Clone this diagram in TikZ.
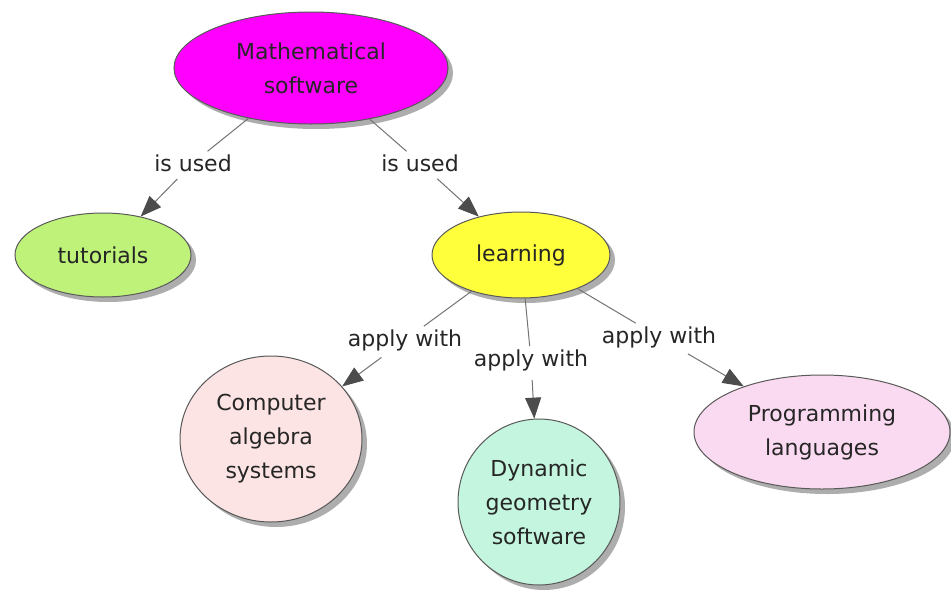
\documentclass[tikz,border=0pt]{standalone}
\usepackage{fontspec}
\setmainfont{DejaVu Sans}
\usetikzlibrary{shapes.geometric,arrows.meta,shadows}
\definecolor{cmag}{RGB}{255,0,255}
\definecolor{cgreen}{RGB}{190,242,120}
\definecolor{cyellow}{RGB}{255,255,60}
\definecolor{cpink}{RGB}{252,228,228}
\definecolor{cteal}{RGB}{196,245,222}
\definecolor{clav}{RGB}{250,218,240}
\begin{document}
\begin{tikzpicture}[x=1pt,y=-1pt,
  concept/.style={ellipse, draw=black!65, line width=1pt, inner sep=0pt, align=center,
    text=black!85, font=\fontsize{22}{34}\selectfont,
    drop shadow={shadow xshift=5pt, shadow yshift=-5pt, fill=black!40, opacity=0.8}},
  lbl/.style={font=\fontsize{22}{26}\selectfont, text=black!85, inner sep=3pt},
  link/.style={draw=black!55, line width=1pt},
  arr/.style={link, shorten <=6pt, -{Triangle[length=21pt,width=16pt,fill=black!70,color=black!70]}}
]
\useasboundingbox[fill=white] (0,0) rectangle (951,592);

\node[concept, fill=cmag, minimum width=274pt, minimum height=112pt] (ms) at (311,68) {Mathematical\\software};
\node[concept, fill=cgreen, minimum width=176pt, minimum height=84pt] (tut) at (103,255) {tutorials};
\node[concept, fill=cyellow, minimum width=178pt, minimum height=86pt] (lrn) at (521,255) {learning};
\node[concept, fill=cpink, minimum width=182pt, minimum height=166pt] (cas) at (271,439) {Computer\\algebra\\systems};
\node[concept, fill=cteal, minimum width=162pt, minimum height=166pt] (dgs) at (539,502) {Dynamic\\geometry\\software};
\node[concept, fill=clav, minimum width=256pt, minimum height=114pt] (pl) at (822,432) {Programming\\languages};

\node[lbl] (l1) at (193,163) {is used};
\node[lbl] (l2) at (420,163) {is used};
\node[lbl] (l3) at (405,340) {apply with};
\node[lbl] (l4) at (531,360) {apply with};
\node[lbl] (l5) at (659,337) {apply with};

\draw[link] (ms) -- (l1);
\draw[arr] (l1) -- (tut);
\draw[link] (ms) -- (l2);
\draw[arr] (l2) -- (lrn);
\draw[link] (lrn) -- (l3);
\draw[arr] (l3) -- (cas);
\draw[link] (lrn) -- (l4);
\draw[arr] (l4) -- (dgs);
\draw[link] (lrn) -- (l5);
\draw[arr] (l5) -- (pl);
\end{tikzpicture}
\end{document}
